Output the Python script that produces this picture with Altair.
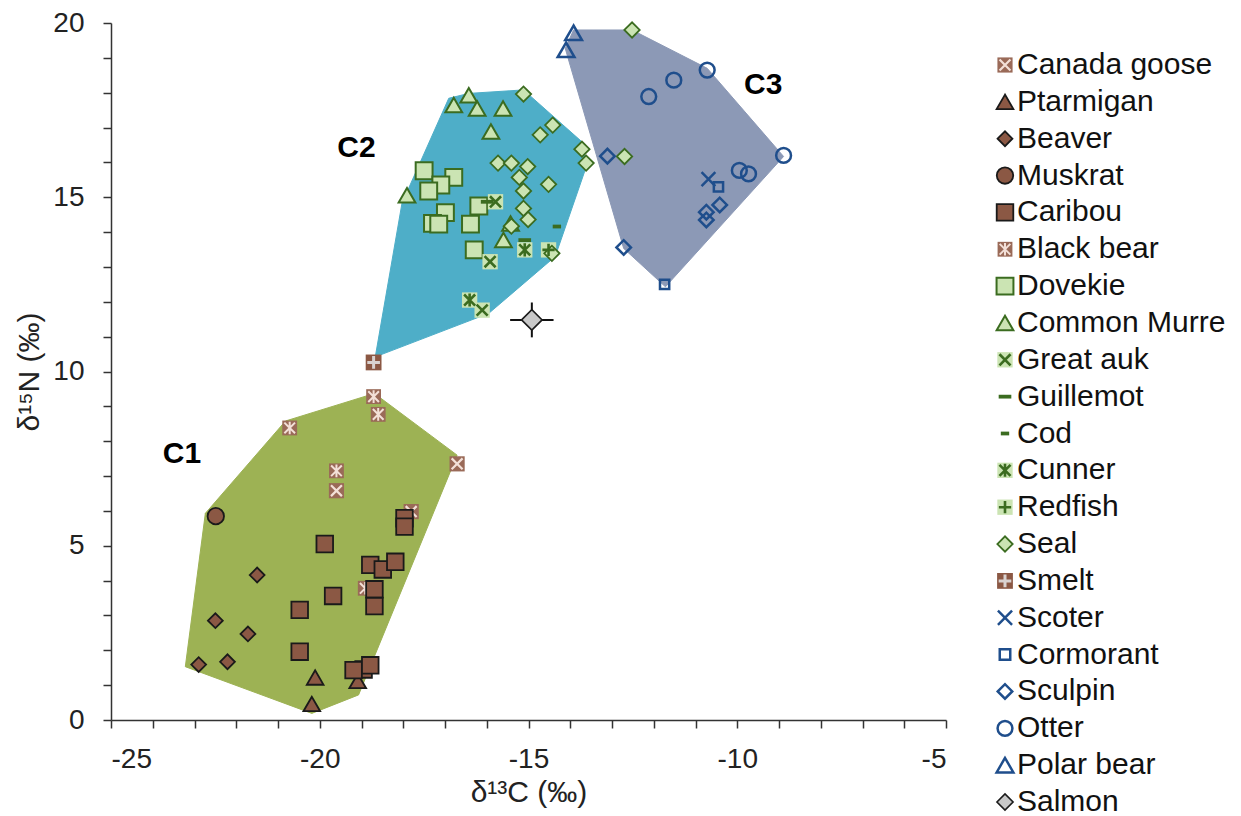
import altair as alt
import pandas as pd

# ---------------- data (d13C = x, d15N = y) ----------------
species = ["Canada goose", "Ptarmigan", "Beaver", "Muskrat", "Caribou", "Black bear",
           "Dovekie", "Common Murre", "Great auk", "Guillemot", "Cod", "Cunner",
           "Redfish", "Seal", "Smelt", "Scoter", "Cormorant", "Sculpin", "Otter",
           "Polar bear", "Salmon"]

canada_goose_x = [-16.71, -19.60, -17.81]
canada_goose_y = [7.35, 6.58, 5.98]
ptarmigan_x = [-20.11, -19.09, -20.19]
ptarmigan_y = [1.22, 1.12, 0.46]
beaver_x = [-21.50, -22.50, -21.72, -22.90, -22.21]
beaver_y = [4.16, 2.85, 2.47, 1.59, 1.67]
muskrat_x = [-22.49]
muskrat_y = [5.85]
caribou_x = [-17.97, -17.97, -19.88, -18.79, -18.49, -18.19, -18.69, -18.69, -19.68,
             -20.48, -20.48, -18.95, -19.19, -18.79]
caribou_y = [5.79, 5.55, 5.05, 4.45, 4.32, 4.54, 3.75, 3.27, 3.56, 3.16, 1.96, 1.45,
             1.43, 1.57]
black_bear_x = [-18.71, -18.60, -20.72, -19.60, -18.91]
black_bear_y = [9.28, 8.77, 8.38, 7.15, 3.78]
dovekie_x = [-17.50, -16.79, -17.10, -17.39, -16.99, -17.30, -17.15, -16.19, -16.39, -16.30]
dovekie_y = [15.76, 15.57, 15.35, 15.18, 14.56, 14.25, 14.23, 14.75, 14.23, 13.49]
common_murre_x = [-16.79, -16.43, -16.23, -15.61, -15.90, -17.91, -15.60, -15.43]
common_murre_y = [17.65, 17.93, 17.55, 17.55, 16.89, 15.06, 13.77, 14.25]
great_auk_x = [-15.79, -15.92, -16.11]
great_auk_y = [14.87, 13.15, 11.76]
guillemot_x = [-15.99, -15.09]
guillemot_y = [14.87, 13.77]
cod_x = [-14.32]
cod_y = [14.16]
cunner_x = [-16.41, -15.09]
cunner_y = [12.05, 13.49]
redfish_x = [-14.52]
redfish_y = [13.49]
seal_x = [-15.12, -14.42, -14.72, -13.72, -13.62, -15.73, -15.41, -15.02, -15.22, -14.52,
          -15.12, -15.12, -15.01, -15.41, -14.44, -12.52, -12.70]
seal_y = [17.96, 17.07, 16.79, 16.38, 15.98, 15.98, 15.98, 15.88, 15.57, 15.37,
          15.18, 14.68, 14.36, 14.17, 13.39, 19.80, 16.17]
smelt_x = [-18.71]
smelt_y = [10.26]
scoter_x = [-10.69]
scoter_y = [15.52]
cormorant_x = [-10.45, -11.74]
cormorant_y = [15.30, 12.50]
sculpin_x = [-13.11, -12.72, -10.42, -10.74, -10.74]
sculpin_y = [16.18, 13.56, 14.78, 14.57, 14.35]
otter_x = [-12.12, -11.52, -10.72, -8.89, -9.95, -9.73]
otter_y = [17.89, 18.36, 18.65, 16.20, 15.77, 15.67]
polar_bear_x = [-13.92, -14.10]
polar_bear_y = [19.72, 19.23]
salmon_x = [-14.92]
salmon_y = [11.48]
salmon_x_err = [0.52]
salmon_y_err = [0.50]

# convex cluster outlines (vertices)
c1_x = [-23.22, -22.74, -20.82, -18.69, -16.71, -19.07, -20.19]
c1_y = [1.53, 5.93, 8.58, 9.37, 7.60, 0.72, 0.19]
c2_x = [-18.67, -18.03, -16.91, -16.43, -15.12, -13.72, -13.60, -14.36, -15.95]
c2_y = [10.42, 14.83, 17.84, 17.98, 18.08, 16.59, 15.93, 13.30, 11.67]
c3_x = [-13.92, -12.52, -10.72, -8.89, -11.72, -12.72, -14.12]
c3_y = [19.80, 19.80, 18.70, 16.17, 12.43, 13.53, 19.27]

cluster_names = ["C1", "C2", "C3"]
cluster_label_x = [-23.30, -19.12, -9.38]
cluster_label_y = [7.63, 16.41, 18.22]

# ---------------- styles ----------------
BROWN = "#8B5844"
GOOSE = "#9A6A58"
PINK = "#F3E0D8"
LGREEN = "#CBE4B3"
DGREEN = "#3B6C20"
BLUE = "#1F4E8C"
EDGE = "#1A1A1A"
HULL = {"C1": "#9DB254", "C2": "#4EAEC8", "C3": "#8C99B6"}

X_PATH = "M-0.72,-0.72L0.72,0.72M-0.72,0.72L0.72,-0.72"
AST_PATH = "M-0.72,-0.72L0.72,0.72M-0.72,0.72L0.72,-0.72M0,-0.85L0,0.85"
PLUS_PATH = "M-0.8,0L0.8,0M0,-0.8L0,0.8"
DASH_PATH = "M-1,-0.3L1,-0.3L1,0.3L-1,0.3Z"
COD_PATH = "M-1,-0.45L1,-0.45L1,0.45L-1,0.45Z"
BLUEX_PATH = "M-1,-1L1,1M-1,1L1,-1"

# species: (shape, fill, stroke, strokeWidth, size, overlay shape, overlay colour, overlay width, drawn early)
style = {
    "Canada goose": ("square", GOOSE, "transparent", 0, 230, X_PATH, PINK, 2.2, 1),
    "Ptarmigan": ("triangle-up", BROWN, EDGE, 1.8, 280, None, None, 0, 0),
    "Beaver": ("diamond", BROWN, EDGE, 1.8, 220, None, None, 0, 0),
    "Muskrat": ("circle", BROWN, EDGE, 1.8, 270, None, None, 0, 0),
    "Caribou": ("square", BROWN, EDGE, 1.8, 275, None, None, 0, 0),
    "Black bear": ("square", GOOSE, "transparent", 0, 220, AST_PATH, PINK, 2.0, 1),
    "Dovekie": ("square", LGREEN, DGREEN, 2.0, 285, None, None, 0, 0),
    "Common Murre": ("triangle-up", LGREEN, DGREEN, 2.0, 280, None, None, 0, 0),
    "Great auk": ("square", LGREEN, "transparent", 0, 235, X_PATH, DGREEN, 2.6, 0),
    "Guillemot": (DASH_PATH, DGREEN, "transparent", 0, 160, None, None, 0, 0),
    "Cod": (COD_PATH, DGREEN, "transparent", 0, 70, None, None, 0, 0),
    "Cunner": ("square", LGREEN, "transparent", 0, 235, AST_PATH, DGREEN, 2.6, 0),
    "Redfish": ("square", LGREEN, "transparent", 0, 235, PLUS_PATH, DGREEN, 2.6, 0),
    "Seal": ("diamond", LGREEN, DGREEN, 1.8, 235, None, None, 0, 0),
    "Smelt": ("square", BROWN, "transparent", 0, 250, PLUS_PATH, "#D9D2D0", 3.0, 1),
    "Scoter": (BLUEX_PATH, "transparent", BLUE, 2.5, 190, None, None, 0, 0),
    "Cormorant": ("square", "transparent", BLUE, 2.5, 85, None, None, 0, 0),
    "Sculpin": ("diamond", "transparent", BLUE, 2.5, 210, None, None, 0, 0),
    "Otter": ("circle", "transparent", BLUE, 2.5, 220, None, None, 0, 0),
    "Polar bear": ("triangle-up", "transparent", BLUE, 2.5, 280, None, None, 0, 0),
    "Salmon": ("diamond", "#C8C8C8", EDGE, 1.6, 420, None, None, 0, 0),
}
legend_size = {"Salmon": 260, "Cormorant": 110, "Scoter": 200}

series = {
    "Canada goose": (canada_goose_x, canada_goose_y),
    "Ptarmigan": (ptarmigan_x, ptarmigan_y),
    "Beaver": (beaver_x, beaver_y),
    "Muskrat": (muskrat_x, muskrat_y),
    "Caribou": (caribou_x, caribou_y),
    "Black bear": (black_bear_x, black_bear_y),
    "Dovekie": (dovekie_x, dovekie_y),
    "Common Murre": (common_murre_x, common_murre_y),
    "Great auk": (great_auk_x, great_auk_y),
    "Guillemot": (guillemot_x, guillemot_y),
    "Cod": (cod_x, cod_y),
    "Cunner": (cunner_x, cunner_y),
    "Redfish": (redfish_x, redfish_y),
    "Seal": (seal_x, seal_y),
    "Smelt": (smelt_x, smelt_y),
    "Scoter": (scoter_x, scoter_y),
    "Cormorant": (cormorant_x, cormorant_y),
    "Sculpin": (sculpin_x, sculpin_y),
    "Otter": (otter_x, otter_y),
    "Polar bear": (polar_bear_x, polar_bear_y),
    "Salmon": (salmon_x, salmon_y),
}

def style_row(sp):
    shp, fill, stroke, sw, size, ov, ovc, ovw, early = style[sp]
    return dict(species=sp, shape=shp, fill=fill, stroke=stroke, sw=sw, size=size,
                lsize=legend_size.get(sp, size), ov=ov or "circle",
                ovc=ovc or "transparent", ovw=ovw, has_ov=int(ov is not None), early=early)

rows = []
for sp in species:
    xs, ys = series[sp]
    for xv, yv in zip(xs, ys):
        r = style_row(sp)
        r.update(x=xv, y=yv)
        rows.append(r)
pts = pd.DataFrame(rows)
leg = pd.DataFrame([style_row(sp) for sp in species])

hull_rows = []
for name, hx, hy in [("C1", c1_x, c1_y), ("C2", c2_x, c2_y), ("C3", c3_x, c3_y)]:
    for i, (xv, yv) in enumerate(zip(hx, hy)):
        hull_rows.append(dict(cluster=name, i=i, x=xv, y=yv))
hulls = pd.DataFrame(hull_rows)

labels = pd.DataFrame(dict(name=cluster_names, x=cluster_label_x, y=cluster_label_y))
salmon = pd.DataFrame(dict(x=salmon_x, y=salmon_y, xe=salmon_x_err, ye=salmon_y_err))

# ---------------- chart ----------------
FONT = "Liberation Sans"
xscale = alt.Scale(domain=[-25, -5], nice=False, zero=False)
yscale = alt.Scale(domain=[0, 20], nice=False, zero=False)
LABEL_EXPR = "datum.value % 5 === 0 ? '' + datum.value : ''"
xaxis = alt.Axis(values=list(range(-25, -4)), labelExpr=LABEL_EXPR, labelOverlap=False,
                 tickSize=8, labelPadding=17, titlePadding=4)
yaxis = alt.Axis(values=list(range(0, 21)), labelExpr=LABEL_EXPR, labelOverlap=False,
                 tickSize=8, labelPadding=19, titlePadding=8)
XT = "δ¹³C (‰)"
YT = "δ¹⁵N (‰)"

def X(field):
    return alt.X(field, scale=xscale, title=XT, axis=xaxis)

def Y(field):
    return alt.Y(field, scale=yscale, title=YT, axis=yaxis)

hull_layers = []
for name in cluster_names:
    hull_layers.append(
        alt.Chart(hulls).transform_filter(alt.datum.cluster == name)
        .mark_line(interpolate="linear-closed", fill=HULL[name], stroke=HULL[name],
                   strokeWidth=1, opacity=1)
        .encode(x=X("x:Q"), y=Y("y:Q"), order=alt.Order("i:Q"))
    )

def base_layer(data_filter):
    return (alt.Chart(pts).transform_filter(data_filter)
            .mark_point(opacity=1)
            .encode(x=X("x:Q"), y=Y("y:Q"),
                    shape=alt.Shape("shape:N", scale=None, legend=None),
                    fill=alt.Fill("fill:N", scale=None, legend=None),
                    stroke=alt.Stroke("stroke:N", scale=None, legend=None),
                    strokeWidth=alt.StrokeWidth("sw:Q", scale=None, legend=None),
                    size=alt.Size("size:Q", scale=None, legend=None)))

def over_layer(data_filter):
    return (alt.Chart(pts).transform_filter(data_filter)
            .mark_point(opacity=1, fill="transparent")
            .encode(x=X("x:Q"), y=Y("y:Q"),
                    shape=alt.Shape("ov:N", scale=None, legend=None),
                    stroke=alt.Stroke("ovc:N", scale=None, legend=None),
                    strokeWidth=alt.StrokeWidth("ovw:Q", scale=None, legend=None),
                    size=alt.Size("size:Q", scale=None, legend=None)))

early_base = base_layer((alt.datum.early == 1))
early_over = over_layer((alt.datum.early == 1) & (alt.datum.has_ov == 1))
late_base = base_layer((alt.datum.early == 0))
late_over = over_layer((alt.datum.early == 0) & (alt.datum.has_ov == 1))

err_h = (alt.Chart(salmon).transform_calculate(x1="datum.x - datum.xe", x2="datum.x + datum.xe")
         .mark_rule(color="#111", strokeWidth=2)
         .encode(x=X("x1:Q"), x2="x2:Q", y=Y("y:Q")))
err_v = (alt.Chart(salmon).transform_calculate(y1="datum.y - datum.ye", y2="datum.y + datum.ye")
         .mark_rule(color="#111", strokeWidth=2)
         .encode(y=Y("y1:Q"), y2="y2:Q", x=X("x:Q")))

text_layer = (alt.Chart(labels)
              .mark_text(font=FONT, fontSize=30, fontWeight="bold", color="#000")
              .encode(x=X("x:Q"), y=Y("y:Q"), text="name:N"))

main = alt.layer(*hull_layers, early_base, early_over, err_h, err_v, late_base, late_over,
                 text_layer)

# legend (drawn with its own point scale of species)
LY = alt.Y("species:N", scale=alt.Scale(type="point", domain=species, range=[42, 779],
                                        padding=0),
           axis=None, sort=species)
leg_base = (alt.Chart(leg).mark_point(opacity=1)
            .encode(y=LY, x=alt.value(894),
                    shape=alt.Shape("shape:N", scale=None, legend=None),
                    fill=alt.Fill("fill:N", scale=None, legend=None),
                    stroke=alt.Stroke("stroke:N", scale=None, legend=None),
                    strokeWidth=alt.StrokeWidth("sw:Q", scale=None, legend=None),
                    size=alt.Size("lsize:Q", scale=None, legend=None)))
leg_over = (alt.Chart(leg).transform_filter(alt.datum.has_ov == 1)
            .mark_point(opacity=1, fill="transparent")
            .encode(y=LY, x=alt.value(894),
                    shape=alt.Shape("ov:N", scale=None, legend=None),
                    stroke=alt.Stroke("ovc:N", scale=None, legend=None),
                    strokeWidth=alt.StrokeWidth("ovw:Q", scale=None, legend=None),
                    size=alt.Size("lsize:Q", scale=None, legend=None)))
leg_text = (alt.Chart(leg).mark_text(font=FONT, fontSize=30, align="left", baseline="middle",
                                     color="#111")
            .encode(y=LY, x=alt.value(906), text="species:N"))
legend = alt.layer(leg_base, leg_over, leg_text)

chart = (alt.layer(main, legend)
         .resolve_scale(y="independent")
         .properties(width=835, height=697,
                     padding={"left": 6, "top": 1, "right": 0, "bottom": 0})
         .configure_view(stroke=None)
         .configure_axis(grid=False, domainColor="#333", domainWidth=1.5, tickColor="#333",
                         tickWidth=1.5, labelFont=FONT, labelFontSize=28, labelColor="#222",
                         labelOverlap=False, titleFont=FONT, titleFontSize=30,
                         titleFontWeight="normal", titleColor="#222"))

chart.save("out.html", embed_options={"renderer": "svg", "actions": False})
